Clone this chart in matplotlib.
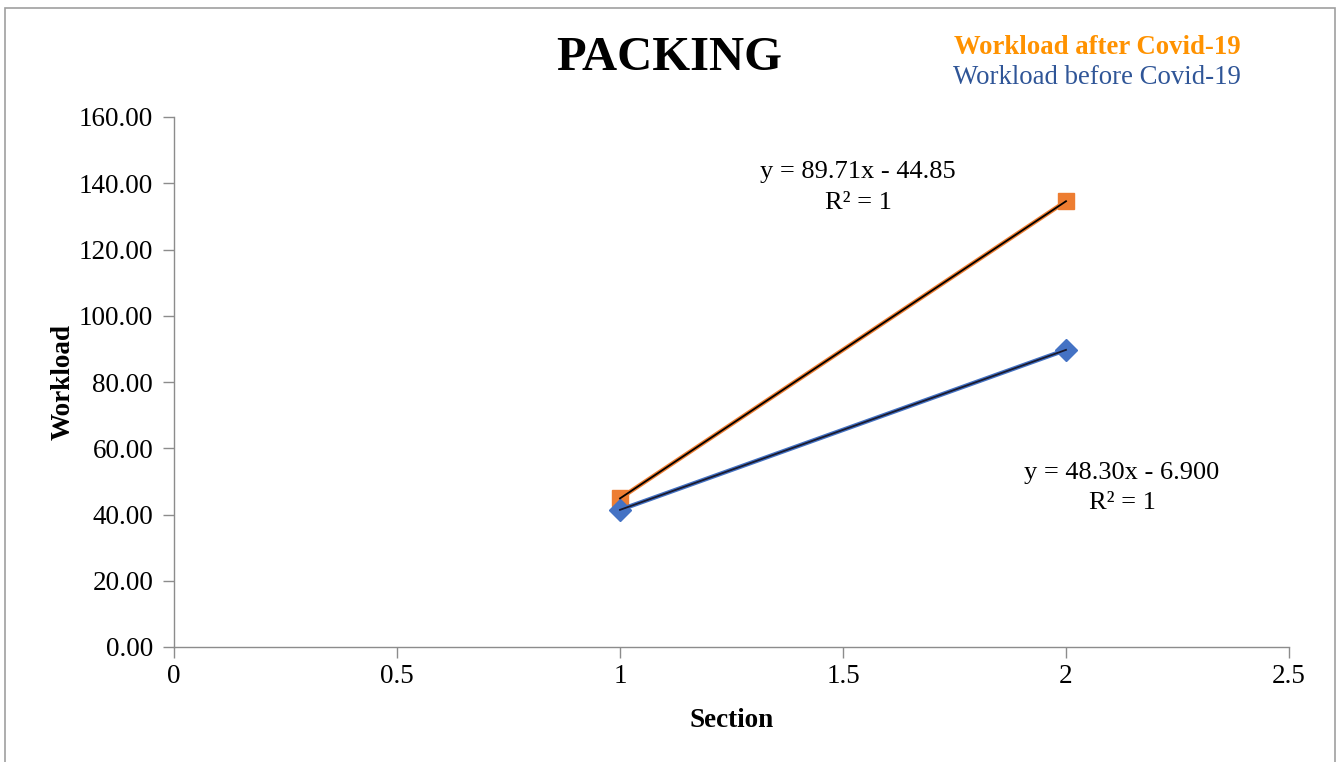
import matplotlib
matplotlib.use("Agg")
import matplotlib.pyplot as plt
from matplotlib.patches import Rectangle
import numpy as np

plt.rcParams['font.family'] = ['Liberation Serif', 'DejaVu Serif']

sections = [1, 2]
after_covid = [44.86, 134.57]
before_covid = [41.40, 89.70]
after_fit = (89.71, -44.85)
before_fit = (48.30, -6.900)
x_ticks = [0, 0.5, 1, 1.5, 2, 2.5]
x_tick_labels = ["0", "0.5", "1", "1.5", "2", "2.5"]
y_ticks = [0, 20, 40, 60, 80, 100, 120, 140, 160]

W, H = 1338, 762
fig = plt.figure(figsize=(W / 100, H / 100), dpi=100)
ax = fig.add_axes([174 / W, 1 - 647 / H, (1289 - 174) / W, (647 - 117) / H])

ax.plot(sections, after_covid, color='#ED7D31', lw=3.2, marker='s', ms=12,
        mec='#ED7D31', mfc='#ED7D31', zorder=3)
ax.plot(sections, before_covid, color='#4472C4', lw=3.2, marker='D', ms=11,
        mec='#4472C4', mfc='#4472C4', zorder=3)
xs = np.array(sections, dtype=float)
ax.plot(xs, after_fit[0] * xs + after_fit[1], color='black', lw=1.3, zorder=4)
ax.plot(xs, before_fit[0] * xs + before_fit[1], color='#1a1a2e', lw=1.3, zorder=4)

ax.set_xlim(0, 2.5)
ax.set_ylim(0, 160)
ax.set_xticks(x_ticks)
ax.set_xticklabels(x_tick_labels)
ax.set_yticks(y_ticks)
ax.set_yticklabels([f"{v:.2f}" for v in y_ticks])
for s in ['top', 'right']:
    ax.spines[s].set_visible(False)
for s in ['left', 'bottom']:
    ax.spines[s].set_color('#8c8c8c')
    ax.spines[s].set_linewidth(1.0)
ax.tick_params(axis='both', direction='out', length=8, width=1.0, color='#8c8c8c',
               labelsize=19.5, labelcolor='black')
ax.tick_params(axis='y', pad=7)
ax.tick_params(axis='x', pad=4)

ax.set_xlabel("Section", fontsize=19.5, fontweight='bold', labelpad=14)
ax.set_ylabel("Workload", fontsize=19.5, fontweight='bold', labelpad=2)

fig.text(669 / W, 1 - 58 / H, "PACKING", fontsize=35, fontweight='bold',
         ha='center', va='center')
fig.text(1097 / W, 1 - 48 / H, "Workload after Covid-19", fontsize=19.3,
         fontweight='bold', color='#FF9200', ha='center', va='center')
fig.text(1097 / W, 1 - 78 / H, "Workload before Covid-19", fontsize=19.3,
         color='#2F5597', ha='center', va='center')

fig.text(858 / W, 1 - 172 / H, "y = 89.71x - 44.85", fontsize=19, ha='center', va='center')
fig.text(858 / W, 1 - 203 / H, "R² = 1", fontsize=19, ha='center', va='center')
fig.text(1122 / W, 1 - 473 / H, "y = 48.30x - 6.900", fontsize=19, ha='center', va='center')
fig.text(1122 / W, 1 - 503 / H, "R² = 1", fontsize=19, ha='center', va='center')

fig.patches.append(Rectangle((5 / W, -0.05), (1335 - 5) / W, 1 - 8 / H + 0.05,
                             transform=fig.transFigure, fill=False,
                             edgecolor='#a0a0a0', lw=1.2, clip_on=False))

fig.savefig("out.png", dpi=100)
